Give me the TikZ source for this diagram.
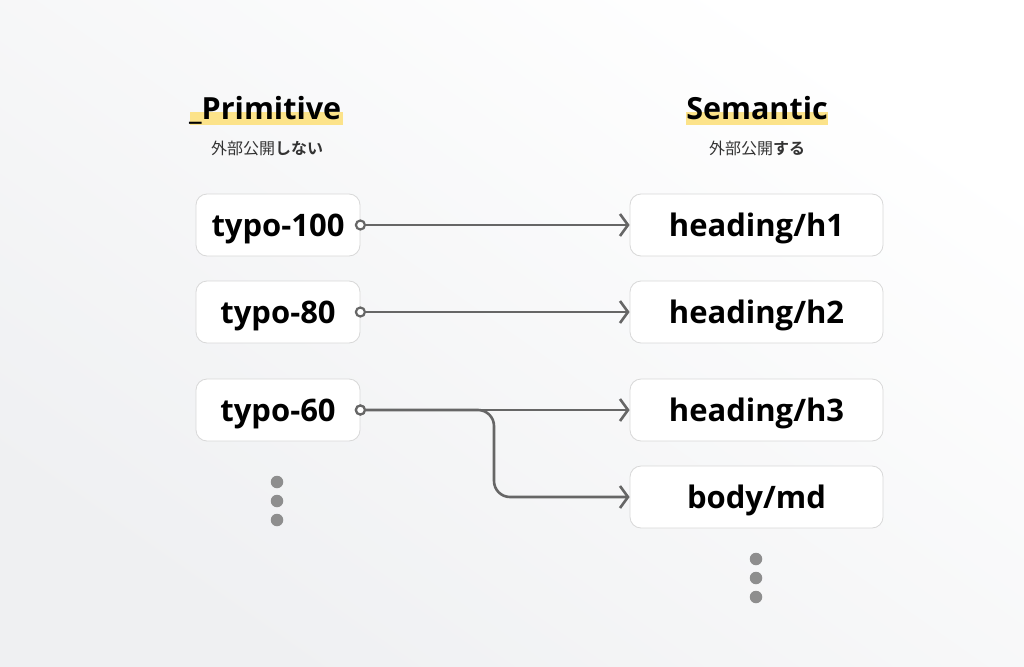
\documentclass[tikz,border=0pt]{standalone}
\usepackage{fontspec}
\setmainfont{Open Sans}
\newfontfamily\jpfont{Noto Sans CJK JP}[BoldFont={Noto Sans CJK JP Bold}]
\usetikzlibrary{arrows.meta}
\definecolor{bgend}{HTML}{EFF0F2}
\definecolor{boxline}{HTML}{D8D8D8}
\definecolor{conn}{HTML}{666666}
\definecolor{dotgray}{HTML}{8E8E8E}
\definecolor{hilite}{HTML}{FCE38A}
\definecolor{subtxt}{HTML}{333333}
\tikzset{
  tokbox/.style={draw=boxline, line width=0.8pt, fill=white, rounded corners=11pt,
    minimum height=62pt, inner sep=0pt, text depth=0pt, font=\fontsize{31}{36}\selectfont\bfseries},
  leftbox/.style={tokbox, minimum width=164pt},
  rightbox/.style={tokbox, minimum width=253pt},
  startdot/.style={circle, draw=conn, line width=2.2pt, fill=white, minimum size=9pt, inner sep=0pt},
  connline/.style={draw=conn, line width=2.6pt, -{Straight Barb[length=8pt,width=22pt,line width=2.6pt]}},
  moredot/.style={circle, fill=dotgray, minimum size=12.5pt, inner sep=0pt},
  title/.style={font=\fontsize{30.5}{36}\selectfont\bfseries, inner sep=0pt},
  subtitle/.style={font=\jpfont\fontsize{16}{18}\selectfont, text=subtxt, inner sep=0pt}
}
\begin{document}
\begin{tikzpicture}[x=1pt,y=-1pt]
\useasboundingbox (0,0) rectangle (1024,666);
\shade[shading=axis, left color=white, right color=bgend, shading angle=-35] (0,0) rectangle (1024,666);
% titles
\fill[hilite] (190,112) rectangle (343,125);
\fill[hilite] (686,112) rectangle (828,125);
\node[title, anchor=base west] (ptitle) at (189,120) {\_Primitive};
\node[title, anchor=base] (stitle) at (757,120) {Semantic};
\node[subtitle] (psub) at (267,148) {外部公開\textbf{しない}};
\node[subtitle] (ssub) at (757,148) {外部公開\textbf{する}};
% left boxes
\node[leftbox] (t100) at (278,225) {typo-100};
\node[leftbox] (t80) at (278,312) {typo-80};
\node[leftbox] (t60) at (278,410) {typo-60};
% right boxes
\node[rightbox] (h1) at (756.5,225) {heading/h1};
\node[rightbox] (h2) at (756.5,312) {heading/h2};
\node[rightbox] (h3) at (756.5,410) {heading/h3};
\node[rightbox] (md) at (756.5,497) {body/md};
% start dots
\node[startdot] (s100) at (t100.east) {};
\node[startdot] (s80) at (t80.east) {};
\node[startdot] (s60) at (t60.east) {};
% connectors
\draw[connline] (s100) -- (h1.west);
\draw[connline] (s80) -- (h2.west);
\draw[connline] (s60) -- (h3.west);
\draw[connline, rounded corners=16pt] (s60.east) -- (494,410) -- (494,497) -- (md.west);
\node[startdot] at (t60.east) {};
% more dots
\node[moredot] (ld1) at (277,482) {};
\node[moredot] (ld2) at (277,501) {};
\node[moredot] (ld3) at (277,520) {};
\node[moredot] (rd1) at (756,559) {};
\node[moredot] (rd2) at (756,578) {};
\node[moredot] (rd3) at (756,597) {};
\end{tikzpicture}
\end{document}
